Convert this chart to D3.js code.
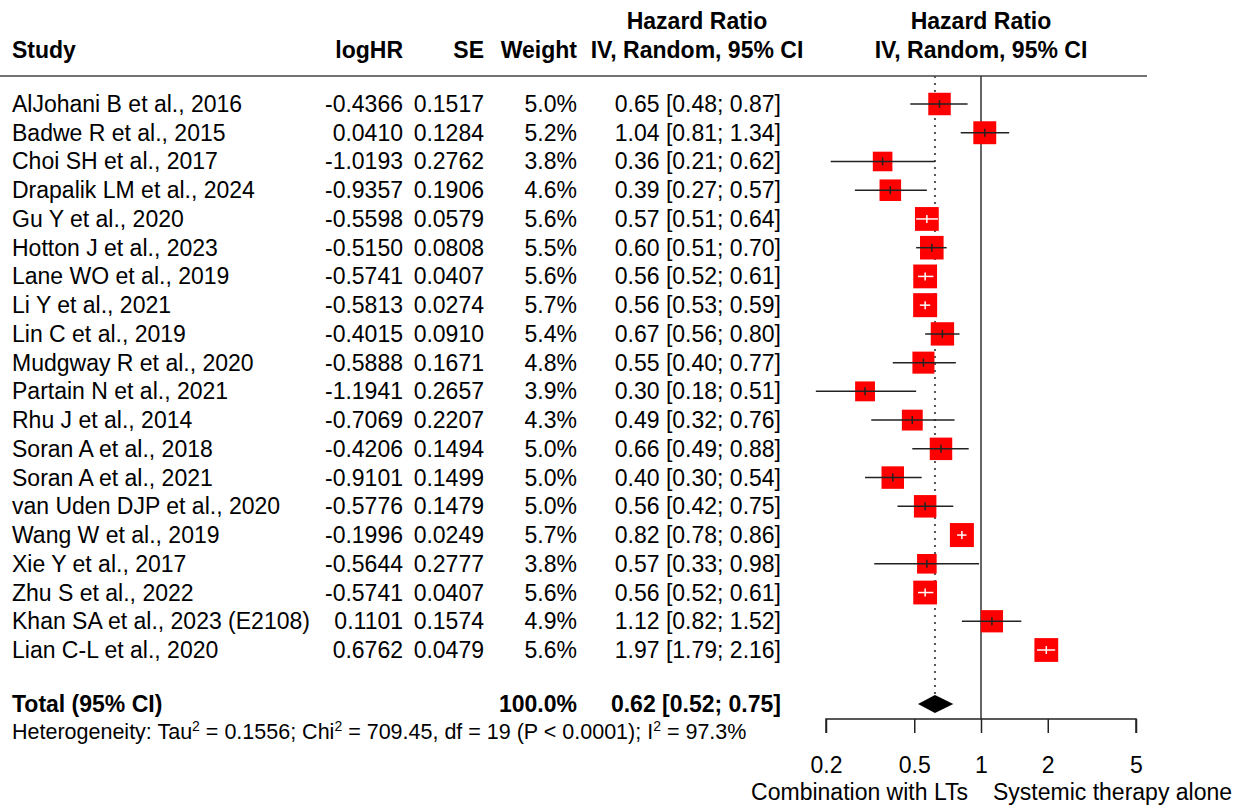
<!DOCTYPE html>
<html>
<head>
<meta charset="utf-8">
<style>
  body { margin:0; background:#fff; }
  svg text { font-family: "Liberation Sans", Arial, sans-serif; fill:#000; }
  .hdr { font-weight:bold; }
  .row { font-size:23px; }
</style>
</head>
<body>
<svg width="1239" height="806"></svg>
<script src="https://cdn.jsdelivr.net/npm/d3@7"></script>
<script>

  // study data
  var studies = ["AlJohani B et al., 2016","Badwe R et al., 2015","Choi SH et al., 2017","Drapalik LM et al., 2024",
    "Gu Y et al., 2020","Hotton J et al., 2023","Lane WO et al., 2019","Li Y et al., 2021","Lin C et al., 2019",
    "Mudgway R et al., 2020","Partain N et al., 2021","Rhu J et al., 2014","Soran A et al., 2018","Soran A et al., 2021",
    "van Uden DJP et al., 2020","Wang W et al., 2019","Xie Y et al., 2017","Zhu S et al., 2022",
    "Khan SA et al., 2023 (E2108)","Lian C-L et al., 2020"]
  var logHR = ["-0.4366","0.0410","-1.0193","-0.9357","-0.5598","-0.5150","-0.5741","-0.5813","-0.4015","-0.5888",
    "-1.1941","-0.7069","-0.4206","-0.9101","-0.5776","-0.1996","-0.5644","-0.5741","0.1101","0.6762"]
  var se = ["0.1517","0.1284","0.2762","0.1906","0.0579","0.0808","0.0407","0.0274","0.0910","0.1671",
    "0.2657","0.2207","0.1494","0.1499","0.1479","0.0249","0.2777","0.0407","0.1574","0.0479"]
  var weight = [5.0,5.2,3.8,4.6,5.6,5.5,5.6,5.7,5.4,4.8,3.9,4.3,5.0,5.0,5.0,5.7,3.8,5.6,4.9,5.6]
  var hr    = [0.65,1.04,0.36,0.39,0.57,0.60,0.56,0.56,0.67,0.55,0.30,0.49,0.66,0.40,0.56,0.82,0.57,0.56,1.12,1.97]
  var lower = [0.48,0.81,0.21,0.27,0.51,0.51,0.52,0.53,0.56,0.40,0.18,0.32,0.49,0.30,0.42,0.78,0.33,0.52,0.82,1.79]
  var upper = [0.87,1.34,0.62,0.57,0.64,0.70,0.61,0.59,0.80,0.77,0.51,0.76,0.88,0.54,0.75,0.86,0.98,0.61,1.52,2.16]

  var total = {hr:0.62, lower:0.52, upper:0.75}
  var axisTicks = [0.2, 0.5, 1, 2, 5]

  var svg = d3.select("svg")
  var f2 = d3.format(".2f")

  var x = d3.scaleLog().domain([0.2, 5]).range([826, 1136])
  var y = d3.scaleLinear().domain([0, studies.length-1]).range([104, 650])
  var yTotal = 704, yAxis = 719, yTop = 76
  var boxMax = 24
  var boxSize = function(w) { return boxMax*Math.sqrt(w/d3.max(weight)) }

  var colLogHR = 403, colSE = 484, colW = 577, colCI = 781, colCIhdr = 697

  // headers
  var hdr = svg.append("g").attr("class","hdr").style("font-size","23px")
  hdr.append("text").attr("x",12).attr("y",58).text("Study")
  hdr.append("text").attr("x",colLogHR).attr("y",58).attr("text-anchor","end").text("logHR")
  hdr.append("text").attr("x",colSE).attr("y",58).attr("text-anchor","end").text("SE")
  hdr.append("text").attr("x",colW).attr("y",58).attr("text-anchor","end").text("Weight")
  hdr.append("text").attr("x",colCIhdr).attr("y",29).attr("text-anchor","middle").text("Hazard Ratio")
  hdr.append("text").attr("x",colCIhdr).attr("y",58).attr("text-anchor","middle").text("IV, Random, 95% CI")
  hdr.append("text").attr("x",x(1)).attr("y",29).attr("text-anchor","middle").text("Hazard Ratio")
  hdr.append("text").attr("x",x(1)).attr("y",58).attr("text-anchor","middle").text("IV, Random, 95% CI")

  svg.append("line").attr("x1",0).attr("x2",1147).attr("y1",yTop).attr("y2",yTop)
    .attr("stroke","#444").attr("stroke-width",1.5)

  // study rows text
  var rows = svg.append("g").attr("class","row")
    .selectAll("g").data(studies).enter().append("g")
    .attr("transform", function(d,i) { return "translate(0," + (y(i)+8) + ")" })
  rows.append("text").attr("x",12).text(function(d) { return d })
  rows.append("text").attr("x",colLogHR).attr("text-anchor","end").text(function(d,i) { return logHR[i] })
  rows.append("text").attr("x",colSE).attr("text-anchor","end").text(function(d,i) { return se[i] })
  rows.append("text").attr("x",colW).attr("text-anchor","end").text(function(d,i) { return weight[i].toFixed(1)+"%" })
  rows.append("text").attr("x",colCI).attr("text-anchor","end")
    .text(function(d,i) { return f2(hr[i])+" ["+f2(lower[i])+"; "+f2(upper[i])+"]" })

  // total row
  var tot = svg.append("g").attr("class","hdr").style("font-size","23px")
  tot.append("text").attr("x",12).attr("y",yTotal+8).text("Total (95% CI)")
  tot.append("text").attr("x",colW).attr("y",yTotal+8).attr("text-anchor","end").text("100.0%")
  tot.append("text").attr("x",colCI).attr("y",yTotal+8).attr("text-anchor","end")
    .text(f2(total.hr)+" ["+f2(total.lower)+"; "+f2(total.upper)+"]")

  var het = svg.append("text").attr("x",12).attr("y",739).style("font-size","21.5px")
  het.append("tspan").text("Heterogeneity: Tau")
  het.append("tspan").attr("dy",-8).style("font-size","14px").text("2")
  het.append("tspan").attr("dy",8).text(" = 0.1556; Chi")
  het.append("tspan").attr("dy",-8).style("font-size","14px").text("2")
  het.append("tspan").attr("dy",8).text(" = 709.45, df = 19 (P < 0.0001); I")
  het.append("tspan").attr("dy",-8).style("font-size","14px").text("2")
  het.append("tspan").attr("dy",8).text(" = 97.3%")

  // reference lines
  svg.append("line").attr("x1",x(1)).attr("x2",x(1)).attr("y1",yTop).attr("y2",yAxis)
    .attr("stroke","#333").attr("stroke-width",1.5)
  svg.append("line").attr("x1",x(total.hr)).attr("x2",x(total.hr)).attr("y1",yTop).attr("y2",yTotal-10)
    .attr("stroke","#555").attr("stroke-width",2).attr("stroke-dasharray","2,5")

  // study markers
  var marks = svg.append("g").selectAll("g").data(hr).enter().append("g")
  marks.each(function(d,i) {
    var g = d3.select(this), cy = y(i), cx = x(d), s = boxSize(weight[i])
    var inside = x(lower[i]) >= cx - s/2 && x(upper[i]) <= cx + s/2
    g.append("rect").attr("x",cx-s/2).attr("y",cy-s/2).attr("width",s).attr("height",s).attr("fill","#f00")
    var col = inside ? "#fff" : "#222"
    g.append("line").attr("x1",x(lower[i])).attr("x2",x(upper[i])).attr("y1",cy).attr("y2",cy)
      .attr("stroke",col).attr("stroke-width",1.5)
    g.append("line").attr("x1",cx).attr("x2",cx).attr("y1",cy-4).attr("y2",cy+4)
      .attr("stroke",col).attr("stroke-width",1.5)
  })

  // pooled diamond
  svg.append("path")
    .attr("d", "M"+x(total.lower)+","+yTotal+" L"+x(total.hr)+","+(yTotal-9)+" L"+x(total.upper)+","+yTotal+
      " L"+x(total.hr)+","+(yTotal+9)+" Z")
    .attr("fill","#000")

  // x axis
  var ax = svg.append("g").attr("transform","translate(0,"+yAxis+")")
    .call(d3.axisBottom(x).tickValues(axisTicks).tickSize(14).tickPadding(24).tickFormat(d3.format("")))
  ax.select(".domain").attr("d","M"+x(0.2)+",14V0H"+x(5)+"V14").attr("stroke","#222").attr("stroke-width",1.5)
  ax.selectAll(".tick line").attr("stroke","#222").attr("stroke-width",1.5)
  ax.selectAll(".tick text").style("font-size","23px").style("font-family","Liberation Sans, Arial, sans-serif")

  svg.append("text").attr("x",968).attr("y",800).attr("text-anchor","end").style("font-size","23px")
    .text("Combination with LTs")
  svg.append("text").attr("x",993).attr("y",800).style("font-size","23px")
    .text("Systemic therapy alone")

</script>
</body>
</html>
